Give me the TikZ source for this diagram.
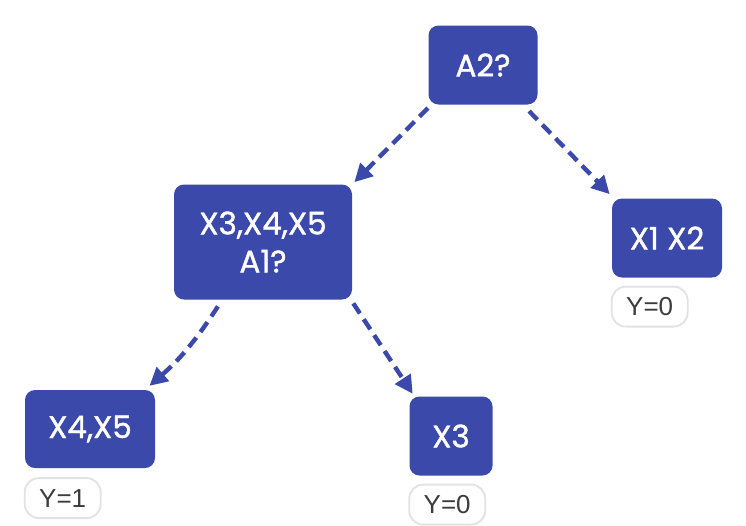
\documentclass[tikz,border=0pt]{standalone}
\usepackage{fontspec}
\newfontfamily\boxfont[FakeBold=1.3]{Poppins}
\newfontfamily\tagfont{Liberation Sans}
\usetikzlibrary{positioning}
\usetikzlibrary{arrows.meta}
\definecolor{treeblue}{HTML}{3A49AA}
\definecolor{tagline}{HTML}{E2E2E2}
\definecolor{tagtext}{HTML}{3C3C3C}

\begin{document}
\begin{tikzpicture} [x=1pt, y=1pt,
  split/.style={fill=treeblue, rounded corners=10pt, text=white, align=center,
    font=\boxfont\fontsize{31}{38}\selectfont, inner sep=0pt},
  tag/.style={draw=tagline, line width=1.8pt, fill=white, rounded corners=14pt,
    text=tagtext, font=\tagfont\fontsize{26}{30}\selectfont,
    minimum width=76pt, minimum height=40pt, inner sep=0pt},
  link/.style={treeblue, line width=4.4pt, dash pattern=on 12pt off 7pt,
    -{Triangle[length=18pt,width=18pt]}, shorten <=2pt, shorten >=3pt}]
\useasboundingbox (0,0) rectangle (746,-525);
% decision nodes
\node[split, minimum width=109pt, minimum height=79pt] (a2) at (483,-65) {A2?};
\node[split, minimum width=178pt, minimum height=115pt] (q1) at (263,-242) {X3,X4,X5\\A1?};
\node[split, minimum width=110pt, minimum height=79pt] (x12) at (667,-238) {X1 X2};
\node[split, minimum width=130pt, minimum height=78pt] (x45) at (90,-429) {X4,X5};
\node[split, minimum width=83pt, minimum height=79pt] (x3) at (451,-436) {X3};
% leaf labels
\node[tag, below right=8pt and -1pt of x12.south west] (y12) {Y=0};
\node[tag, below right=9pt and -1pt of x45.south west] (y45) {Y=1};
\node[tag, below right=8pt and -1pt of x3.south west] (y3) {Y=0};
% branches
\draw[link] ([xshift=1pt,yshift=-2pt]a2.south west) -- (q1.north east);
\draw[link] ([xshift=-10pt,yshift=-5pt]a2.south east) -- ([yshift=2pt]x12.north west);
\draw[link] ([xshift=-44pt,yshift=-5pt]q1.south) to[bend left=8] ([xshift=-8pt,yshift=2pt]x45.north east);
\draw[link] ([yshift=-2pt]q1.south east) -- ([xshift=5pt]x3.north west);
\end{tikzpicture}
\end{document}
